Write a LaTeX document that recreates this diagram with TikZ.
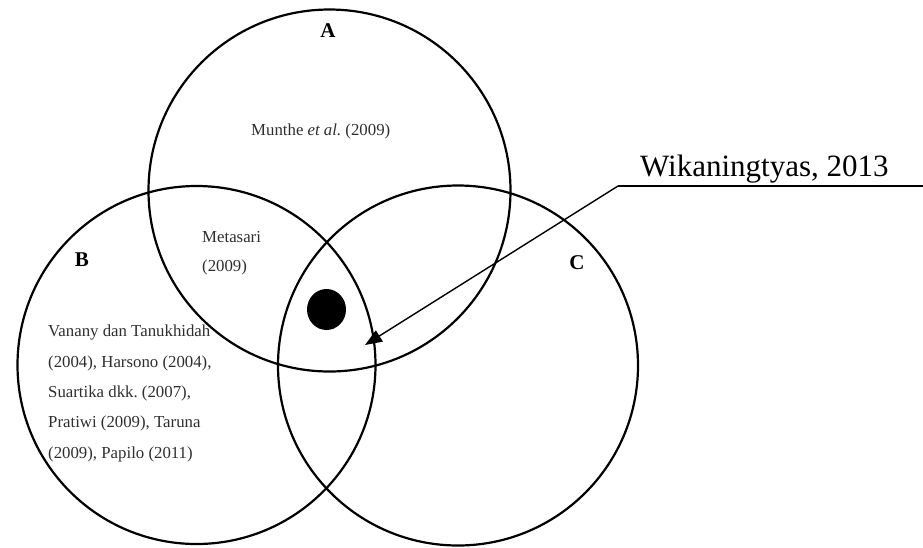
\documentclass[tikz,border=0pt]{standalone}
\usepackage{fontspec}
\setmainfont{Liberation Serif}
\usetikzlibrary{arrows.meta,shapes.geometric}
\definecolor{txtgray}{HTML}{2E2E2E}
\frenchspacing
\tikzset{
  venn/.style={draw=black, line width=2.2pt},
  lbl/.style={font=\fontsize{21}{25}\selectfont\bfseries, inner sep=0pt},
  cite/.style={font=\fontsize{16.8}{20}\selectfont, text=txtgray, inner sep=0pt, anchor=west},
  leader/.style={draw=black, line width=1.4pt},
}
\begin{document}
\begin{tikzpicture}[x=1pt,y=-1pt]
\useasboundingbox (0,0) rectangle (923,547);
% circles
\node[venn, circle, minimum size=362pt, inner sep=0pt] (A) at (329.5,190.5) {};
\node[venn, circle, minimum size=358pt, inner sep=0pt] (B) at (196.5,365) {};
\node[venn, circle, minimum size=360pt, inner sep=0pt] (C) at (458,365.5) {};
% labels
\node[lbl] (la) at (328,31) {A};
\node[lbl] (lb) at (82,260) {B};
\node[lbl] (lc) at (577,263) {C};
% texts
\node[cite] (munthe) at (251,131) {Munthe \textit{et al.} (2009)};
\node[cite] (meta1) at (202,237) {Metasari};
\node[cite] (meta2) at (202,267) {(2009)};
\node[cite] (b1) at (48,332) {Vanany dan Tanukhidah};
\node[cite] (b2) at (48,363) {(2004), Harsono (2004),};
\node[cite] (b3) at (48,393) {Suartika dkk. (2007),};
\node[cite] (b4) at (48,423) {Pratiwi (2009), Taruna};
\node[cite] (b5) at (48,454) {(2009), Papilo (2011)};
% dot
\node[fill=black, ellipse, minimum width=39pt, minimum height=41pt, inner sep=0pt] (dot) at (326.5,309.5) {};
% Wikaningtyas label
\node[font=\fontsize{31}{36}\selectfont, inner sep=0pt, anchor=base west] (wik) at (640,176) {Wikaningtyas, 2013};
\coordinate (lstart) at (618,186);
\coordinate (lend) at (923,186);
\coordinate (tip) at (365,345);
\draw[leader] (lend) -- (lstart);
\draw[leader, -{Triangle[length=17pt,width=13pt]}] (lstart) -- (tip);
\end{tikzpicture}
\end{document}
